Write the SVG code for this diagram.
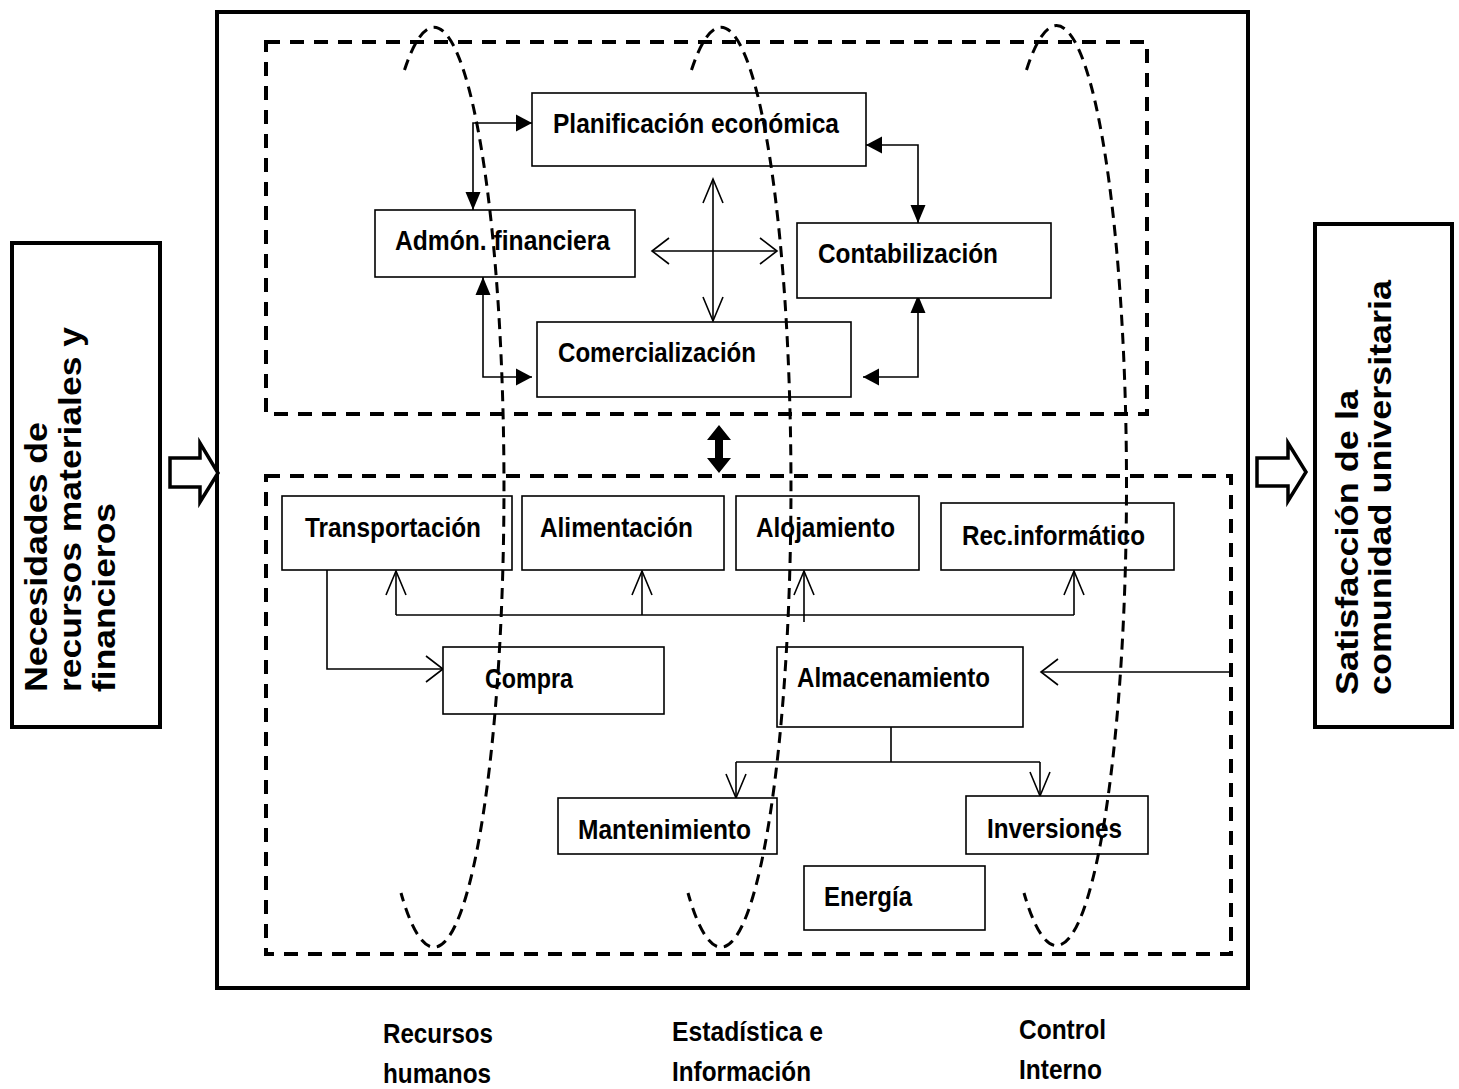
<svg xmlns="http://www.w3.org/2000/svg" width="1459" height="1089" viewBox="0 0 1459 1089">
  <style>
    .box { fill: #fff; stroke: #000; stroke-width: 1.6; }
    .frame { fill: none; stroke: #000; stroke-width: 4; }
    .side { fill: #fff; stroke: #000; stroke-width: 4; }
    .lbl { font-family: "Liberation Sans", Arial, sans-serif; font-weight: bold; font-size: 28px; fill: #000; }
    .vlbl { font-family: "Liberation Sans", Arial, sans-serif; font-weight: bold; font-size: 31px; fill: #000; }
    .conn { fill: none; stroke: #000; stroke-width: 1.6; }
    .zone { fill: none; stroke: #000; stroke-width: 4; stroke-dasharray: 14 10; }
    .lane { fill: none; stroke: #000; stroke-width: 3; stroke-dasharray: 11 7; }
    .block { fill: #fff; stroke: #000; stroke-width: 3.5; stroke-linejoin: miter; }
  </style>
  <defs>
    <marker id="fillH" markerUnits="userSpaceOnUse" markerWidth="16" markerHeight="17" refX="16" refY="8.5" orient="auto-start-reverse" overflow="visible">
      <path d="M0,0 L16,8.5 L0,17 z" fill="#000"/>
    </marker>
    <marker id="fillV" markerUnits="userSpaceOnUse" markerWidth="18" markerHeight="15" refX="18" refY="7.5" orient="auto-start-reverse" overflow="visible">
      <path d="M0,0 L18,7.5 L0,15 z" fill="#000"/>
    </marker>
    <marker id="openH" markerUnits="userSpaceOnUse" markerWidth="18" markerHeight="26" refX="17" refY="13" orient="auto-start-reverse" overflow="visible">
      <path d="M0,0 L17,13 L0,26" fill="none" stroke="#000" stroke-width="1.6"/>
    </marker>
    <marker id="openV" markerUnits="userSpaceOnUse" markerWidth="25" markerHeight="20" refX="24" refY="10" orient="auto-start-reverse" overflow="visible">
      <path d="M0,0 L24,10 L0,20" fill="none" stroke="#000" stroke-width="1.6"/>
    </marker>
  </defs>

  <rect width="1459" height="1089" fill="#fff"/>

  <!-- main system frame -->
  <rect id="system" class="frame" x="217" y="12" width="1031" height="976"/>

  <!-- input and output -->
  <g id="input">
    <rect class="side" x="12" y="243" width="148" height="484"/>
    <text class="vlbl" transform="translate(47,692) rotate(-90)" textLength="270" lengthAdjust="spacingAndGlyphs">Necesidades de</text>
    <text class="vlbl" transform="translate(81,692) rotate(-90)" textLength="365" lengthAdjust="spacingAndGlyphs">recursos materiales y</text>
    <text class="vlbl" transform="translate(115,692) rotate(-90)" textLength="189" lengthAdjust="spacingAndGlyphs">financieros</text>
  </g>
  <g id="output">
    <rect class="side" x="1315" y="224" width="137" height="503"/>
    <text class="vlbl" transform="translate(1358,695) rotate(-90)" textLength="305" lengthAdjust="spacingAndGlyphs">Satisfacción de la</text>
    <text class="vlbl" transform="translate(1391,695) rotate(-90)" textLength="415" lengthAdjust="spacingAndGlyphs">comunidad universitaria</text>
  </g>

  <!-- sub-system zones -->
  <rect id="zone-economic" class="zone" x="266" y="42" width="881" height="372"/>
  <rect id="zone-services" class="zone" x="266" y="476" width="965" height="478"/>

  <!-- connectors -->
  <g id="connectors">
    <polygon class="block" points="170,458 200,458 200,443 218,473 200,502 200,487 170,487"/>
    <polygon class="block" points="1257,458 1288,458 1288,443 1306,472 1288,501 1288,486 1257,486"/>
    <polygon points="719,425 731,440 723,440 723,458 731,458 719,473 707,458 715,458 715,440 707,440" fill="#000"/>

    <path class="conn" d="M473,210 V123 H532" marker-start="url(#fillV)" marker-end="url(#fillH)"/>
    <path class="conn" d="M866,145 H918 V223" marker-start="url(#fillH)" marker-end="url(#fillV)"/>
    <path class="conn" d="M483,277 V377 H532" marker-start="url(#fillV)" marker-end="url(#fillH)"/>
    <path class="conn" d="M918,295 V377 H863" marker-start="url(#fillV)" marker-end="url(#fillH)"/>

    <path class="conn" d="M652,251 H777" marker-start="url(#openH)" marker-end="url(#openH)"/>
    <path class="conn" d="M713,179 V321" marker-start="url(#openV)" marker-end="url(#openV)"/>

    <path class="conn" d="M327,570 V669 H443" marker-end="url(#openH)"/>
    <path class="conn" d="M396,615 H1074"/>
    <path class="conn" d="M396,615 V571" marker-end="url(#openV)"/>
    <path class="conn" d="M642,615 V571" marker-end="url(#openV)"/>
    <path class="conn" d="M804,622 V571" marker-end="url(#openV)"/>
    <path class="conn" d="M1074,615 V571" marker-end="url(#openV)"/>

    <path class="conn" d="M1231,672 H1041" marker-end="url(#openH)"/>
    <path class="conn" d="M891,727 V762 M736,762 H1040"/>
    <path class="conn" d="M736,762 V798" marker-end="url(#openV)"/>
    <path class="conn" d="M1040,762 V796" marker-end="url(#openV)"/>
  </g>

  <!-- economic nodes -->
  <g id="planificacion">
    <rect class="box" x="532" y="93" width="334" height="73"/>
    <text class="lbl" x="553" y="133" textLength="286" lengthAdjust="spacingAndGlyphs">Planificación económica</text>
  </g>
  <g id="admon">
    <rect class="box" x="375" y="210" width="260" height="67"/>
    <text class="lbl" x="395" y="250" textLength="215" lengthAdjust="spacingAndGlyphs">Admón. financiera</text>
  </g>
  <g id="contabilizacion">
    <rect class="box" x="797" y="223" width="254" height="75"/>
    <text class="lbl" x="818" y="263" textLength="180" lengthAdjust="spacingAndGlyphs">Contabilización</text>
  </g>
  <g id="comercializacion">
    <rect class="box" x="537" y="322" width="314" height="75"/>
    <text class="lbl" x="558" y="362" textLength="198" lengthAdjust="spacingAndGlyphs">Comercialización</text>
  </g>

  <!-- service nodes -->
  <g id="transportacion">
    <rect class="box" x="282" y="496" width="230" height="74"/>
    <text class="lbl" x="305" y="537" textLength="176" lengthAdjust="spacingAndGlyphs">Transportación</text>
  </g>
  <g id="alimentacion">
    <rect class="box" x="522" y="496" width="202" height="74"/>
    <text class="lbl" x="540" y="537" textLength="153" lengthAdjust="spacingAndGlyphs">Alimentación</text>
  </g>
  <g id="alojamiento">
    <rect class="box" x="736" y="496" width="183" height="74"/>
    <text class="lbl" x="756" y="537" textLength="139" lengthAdjust="spacingAndGlyphs">Alojamiento</text>
  </g>
  <g id="recinformatico">
    <rect class="box" x="941" y="503" width="233" height="67"/>
    <text class="lbl" x="962" y="545" textLength="183" lengthAdjust="spacingAndGlyphs">Rec.informático</text>
  </g>
  <g id="compra">
    <rect class="box" x="443" y="647" width="221" height="67"/>
    <text class="lbl" x="485" y="688" textLength="88" lengthAdjust="spacingAndGlyphs">Compra</text>
  </g>
  <g id="almacenamiento">
    <rect class="box" x="777" y="647" width="246" height="80"/>
    <text class="lbl" x="797" y="687" textLength="193" lengthAdjust="spacingAndGlyphs">Almacenamiento</text>
  </g>
  <g id="mantenimiento">
    <rect class="box" x="558" y="798" width="219" height="56"/>
    <text class="lbl" x="578" y="839" textLength="173" lengthAdjust="spacingAndGlyphs">Mantenimiento</text>
  </g>
  <g id="inversiones">
    <rect class="box" x="966" y="796" width="182" height="58"/>
    <text class="lbl" x="987" y="838" textLength="135" lengthAdjust="spacingAndGlyphs">Inversiones</text>
  </g>
  <g id="energia">
    <rect class="box" x="804" y="866" width="181" height="64"/>
    <text class="lbl" x="824" y="906" textLength="88" lengthAdjust="spacingAndGlyphs">Energía</text>
  </g>

  <!-- cross-cutting support lanes -->
  <g id="lanes">
    <path class="lane" d="M404.5,70 A70,460 0 1 1 401,893"/>
    <path class="lane" d="M691.5,70 A70,460 0 1 1 688,893"/>
    <path class="lane" d="M1026.5,70 A70,460 0 1 1 1024,893"/>
  </g>

  <!-- lane captions -->
  <g id="lane-labels">
    <text class="lbl" x="383" y="1043" textLength="110" lengthAdjust="spacingAndGlyphs">Recursos</text>
    <text class="lbl" x="383" y="1083" textLength="108" lengthAdjust="spacingAndGlyphs">humanos</text>
    <text class="lbl" x="672" y="1041" textLength="151" lengthAdjust="spacingAndGlyphs">Estadística e</text>
    <text class="lbl" x="672" y="1081" textLength="139" lengthAdjust="spacingAndGlyphs">Información</text>
    <text class="lbl" x="1019" y="1039" textLength="87" lengthAdjust="spacingAndGlyphs">Control</text>
    <text class="lbl" x="1019" y="1079" textLength="83" lengthAdjust="spacingAndGlyphs">Interno</text>
  </g>
</svg>
